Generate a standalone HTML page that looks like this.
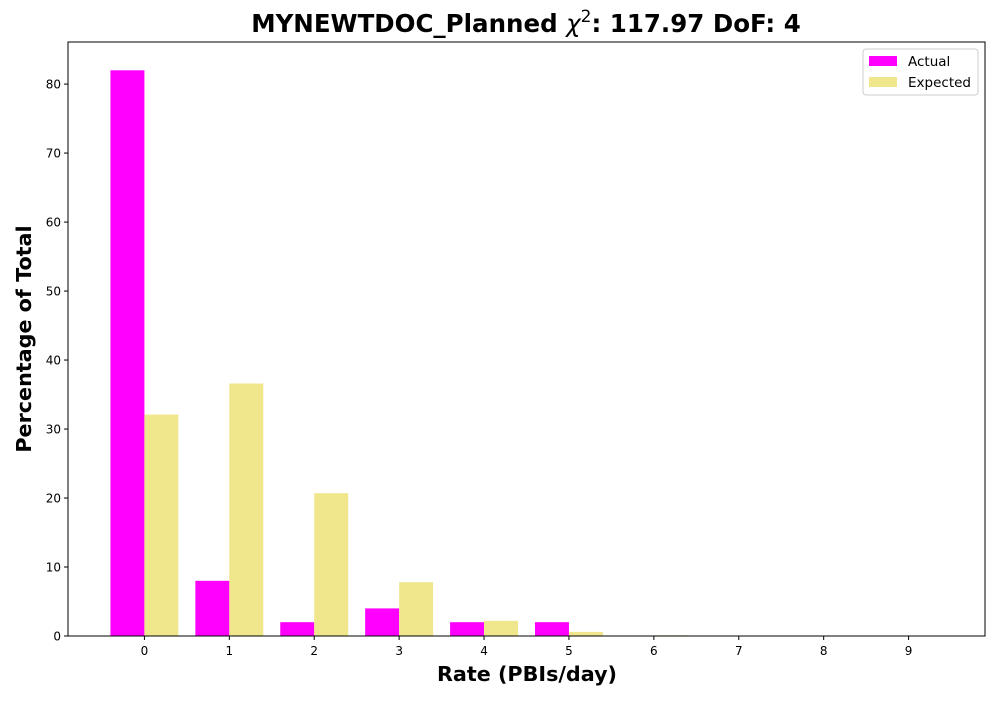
<!DOCTYPE html>
<html><head><meta charset="utf-8"><style>
body{margin:0;background:#fff;font-family:"DejaVu Sans","Liberation Sans",sans-serif;}
svg text{font-family:"DejaVu Sans","Liberation Sans",sans-serif;}
</style></head><body>
<svg id="c" width="1000" height="700" xmlns="http://www.w3.org/2000/svg"></svg>
<script>
const categories=[0,1,2,3,4,5,6,7,8,9];
const actualValues=[82,8,2,4,2,2,0,0,0,0];
const expectedValues=[32.1,36.6,20.7,7.8,2.2,0.6,0.1,0,0,0];
const yTicks=[0,10,20,30,40,50,60,70,80];
const L=68,R=985,T=42,B=636;
const xMin=-0.9,xMax=9.9,yMax=86.1;
const xs=v=>L+(v-xMin)/(xMax-xMin)*(R-L);
const ys=v=>B-v/yMax*(B-T);
const svg=document.getElementById('c');
const NS='http://www.w3.org/2000/svg';
function mk(tag,attrs,parent){const e=document.createElementNS(NS,tag);for(const k in attrs)e.setAttribute(k,attrs[k]);(parent||svg).appendChild(e);return e;}
categories.forEach((c,i)=>{
  let r=mk('rect',{x:xs(c-0.4),y:ys(actualValues[i]),width:xs(c)-xs(c-0.4),height:B-ys(actualValues[i]),fill:'#ff00ff'});
  
  
  let e=mk('rect',{x:xs(c),y:ys(expectedValues[i]),width:xs(c+0.4)-xs(c),height:B-ys(expectedValues[i]),fill:'#f0e68c'});
  
  
});
let f=mk('rect',{x:L,y:T,width:R-L,height:B-T,fill:'none',stroke:'#000','stroke-width':1});


categories.forEach(c=>{
  mk('line',{x1:xs(c),x2:xs(c),y1:B,y2:B+4,stroke:'#000'});
  let t=mk('text',{x:xs(c),y:B+19,'text-anchor':'middle','font-size':12});
  t.textContent=c;
  
  
});
yTicks.forEach(v=>{
  mk('line',{x1:L-4,x2:L,y1:ys(v),y2:ys(v),stroke:'#000'});
  let t=mk('text',{x:L-7,y:ys(v)+4.5,'text-anchor':'end','font-size':12});
  t.textContent=v;
  
  
});
</script>
<svg width="1000" height="700" style="position:absolute;left:0;top:0" xmlns="http://www.w3.org/2000/svg">
<text x="526" y="32" text-anchor="middle" font-size="24.5" font-weight="bold">MYNEWTDOC_Planned <tspan font-style="italic" font-weight="normal">χ</tspan><tspan font-size="17" dy="-10" font-weight="normal">2</tspan><tspan dy="10">: 117.97 DoF: 4</tspan></text>
<text x="527" y="681" text-anchor="middle" font-size="20.7" font-weight="bold">Rate (PBIs/day)</text>
<text transform="translate(31,339) rotate(-90)" text-anchor="middle" font-size="20.7" font-weight="bold">Percentage of Total</text>
<g>
<rect x="863" y="49" width="115" height="46" rx="3" fill="#fff" stroke="#ccc"/>
<rect x="869" y="56" width="28" height="10" fill="#ff00ff"/>
<text x="908" y="66" font-size="13.5">Actual</text>
<rect x="869" y="77" width="28" height="10" fill="#f0e68c"/>
<text x="908" y="87" font-size="13.5">Expected</text>
</g>
</svg>
</body></html>
